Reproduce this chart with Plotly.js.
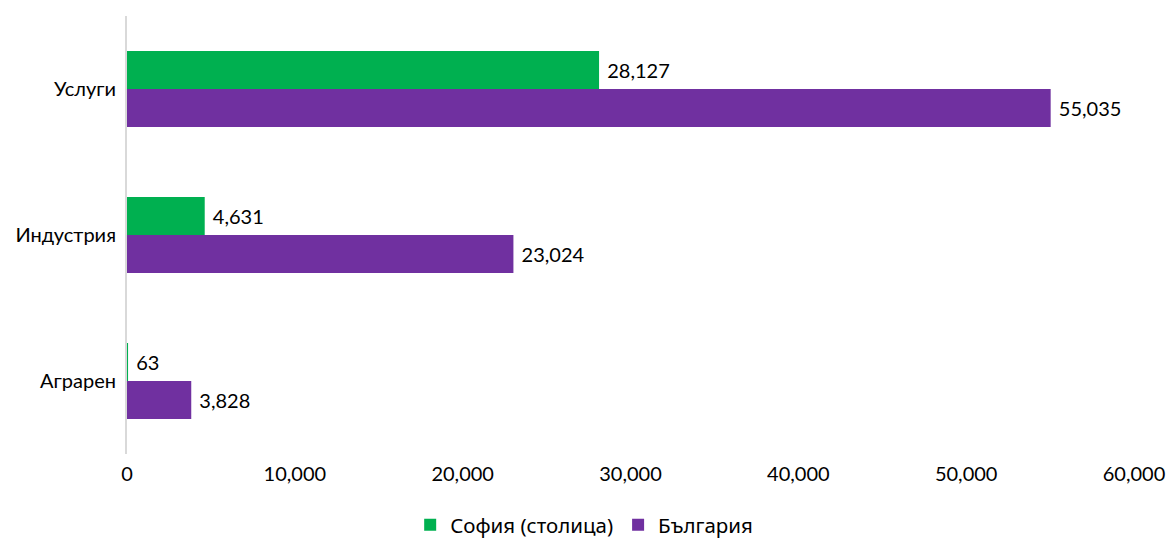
<!DOCTYPE html>
<html>
<head>
<meta charset="utf-8">
<script src="https://cdn.plot.ly/plotly-3.0.1.min.js"></script>
<style>html,body{margin:0;padding:0;background:#fff;}#chart{width:1167px;height:538px;}</style>
</head>
<body>
<div id="chart"></div>
<script>
const categories = ['Аграрен', 'Индустрия', 'Услуги'];
const sofiaValues = [63, 4631, 28127];
const bulgariaValues = [3828, 23024, 55035];
const seriesNames = ['София (столица)', 'България'];
const xTickVals = [0, 10000, 20000, 30000, 40000, 50000, 60000];
const xTickText = ['0', '10,000', '20,000', '30,000', '40,000', '50,000', '60,000'];

const labelFont = {family: 'Lato, sans-serif', size: 20, color: '#000'};

const traces = [
  {
    type: 'bar', orientation: 'h', name: seriesNames[1],
    y: categories, x: bulgariaValues,
    marker: {color: '#7030A0'},
    texttemplate: ' %{x:,}', textposition: 'outside', cliponaxis: false,
    outsidetextfont: labelFont, hoverinfo: 'none'
  },
  {
    type: 'bar', orientation: 'h', name: seriesNames[0],
    y: categories, x: sofiaValues,
    marker: {color: '#00B050'},
    texttemplate: ' %{x:,}', textposition: 'outside', cliponaxis: false,
    outsidetextfont: labelFont, hoverinfo: 'none'
  }
];

const layout = {
  width: 1167, height: 538,
  margin: {l: 127, r: 33, t: 16, b: 84, autoexpand: false},
  paper_bgcolor: '#fff', plot_bgcolor: '#fff',
  barmode: 'group', bargap: 0.48, bargroupgap: 0,
  font: {family: 'Lato, sans-serif', size: 20, color: '#000'},
  xaxis: {
    range: [0, 60000], tickvals: xTickVals, ticktext: xTickText,
    showgrid: false, zeroline: false, showline: false,
    ticks: '', ticklen: 0, ticklabelstandoff: 6, automargin: false,
    tickfont: {family: 'Lato, sans-serif', size: 20, color: '#000'}
  },
  yaxis: {
    type: 'category', categoryorder: 'array', categoryarray: categories,
    showgrid: false, zeroline: false, showline: true, linecolor: '#d9d9d9', linewidth: 2,
    ticks: '', ticklabelstandoff: 5, automargin: false,
    tickfont: {family: 'Lato, sans-serif', size: 20, color: '#000'}
  },
  showlegend: true,
  legend: {
    orientation: 'h', x: 0.454, xanchor: 'center',
    yref: 'container', y: 13 / 538, yanchor: 'middle',
    traceorder: 'reversed',
    font: {family: 'Noto Sans, sans-serif', size: 20.5, color: '#000'},
    itemwidth: 30
  }
};

Plotly.newPlot('chart', traces, layout, {displayModeBar: false, staticPlot: true});
</script>
</body>
</html>
